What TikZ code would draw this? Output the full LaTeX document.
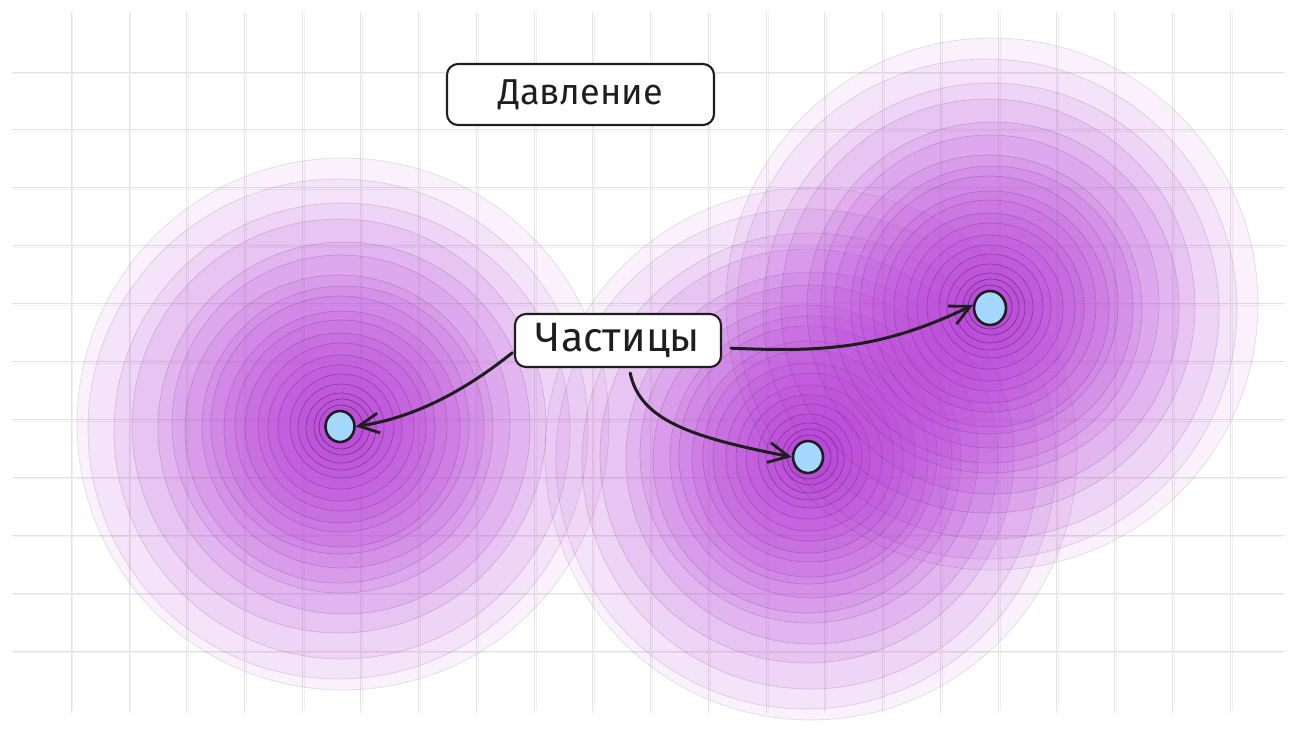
\documentclass[tikz,border=0pt]{standalone}
\usepackage{fontspec}
\setmainfont{Fira Sans}
\usetikzlibrary{arrows.meta,shapes.geometric}
\definecolor{blob}{HTML}{BA40DA}
\definecolor{pblue}{HTML}{A5D8FF}
\definecolor{ink}{HTML}{1E1E1E}
\newcommand\drawBlob[2]{%
  \foreach \r/\dx/\dy/\op/\dop in {266/2/-3/0.07/0.12, 250/-3/2/0.08/0.13, 228/1/4/0.09/0.14, 207/-2/-1/0.1/0.15, 186/3/1/0.11/0.16, 169/0/-3/0.11/0.16, 154/-2/2/0.11/0.17, 141/2/0/0.11/0.17, 129/-1/-2/0.11/0.18, 118/1/2/0.12/0.18, 106/0/-1/0.12/0.19, 95/-1/1/0.12/0.2, 84/1/0/0.12/0.21, 73/0/1/0.12/0.22, 62/-1/0/0.12/0.25, 52/1/-1/0.12/0.3, 43/0/0/0.12/0.35, 35/0/1/0.12/0.4, 28/1/0/0.12/0.45, 22/0/0/0.12/0.5}{
    \draw[blobring, fill opacity=\op, draw opacity=\dop] ({#1+\dx},{#2+\dy}) circle[radius=\r];
  }}
\tikzset{
  gridline/.style={draw=black!11, line width=0.9pt},
  gridlineb/.style={draw=black!6, line width=0.7pt},
  blobring/.style={fill=blob, draw=ink, line width=0.7pt},
  label/.style={draw=ink, fill=white, line width=2.1pt, rounded corners=11pt, inner sep=0pt, text=ink},
  particle/.style={ellipse, draw=ink, fill=pblue, line width=2.6pt, inner sep=0pt},
  arr/.style={draw=ink, line width=3pt, line cap=round, -{Straight Barb[length=20pt,width=20pt,line width=2.8pt]}},
}
\begin{document}
\begin{tikzpicture}[x=1pt,y=-1pt]
\useasboundingbox (0,0) rectangle (1308,732);
\fill[white] (0,0) rectangle (1308,732);
% grid
\foreach \i in {0,...,20}{
  \draw[gridline] ({71+57.97*\i},12) -- ({71+57.97*\i},713);
  \draw[gridlineb] ({72.5+57.97*\i},14) -- ({72.5+57.97*\i},710);
}
\foreach \j in {0,...,10}{
  \draw[gridline] (12,{72+57.9*\j}) -- (1285,{72+57.9*\j});
  \draw[gridlineb] (14,{73.5+57.9*\j}) -- (1282,{73.5+57.9*\j});
}
% pressure clouds
\drawBlob{341}{427}
\drawBlob{809}{457}
\drawBlob{990}{307}
% particles
\node[particle, minimum width=29pt, minimum height=31pt] (p1) at (340,426.5) {};
\node[particle, minimum width=30pt, minimum height=32pt] (p2) at (808,457) {};
\node[particle, minimum width=32pt, minimum height=34pt] (p3) at (990,308) {};
% labels
\node[label, minimum width=267pt, minimum height=61pt, font=\fontsize{36}{42}\selectfont] (lbl1) at (580.5,94.5) {Давление};
\node[label, minimum width=206pt, minimum height=53pt, font=\fontsize{41}{48}\selectfont] (lbl2) at (618,340.5) {Частицы};
% arrows
\draw[arr, shorten <=2pt] (lbl2.186) .. controls (462,393) and (412,418) .. (p1.east);
\draw[arr, shorten <=5pt] (lbl2.292) .. controls (640,420) and (690,437) .. (p2.west);
\draw[arr, shorten <=9pt] (lbl2.-4) .. controls (820,352) and (880,350) .. (p3.170);
\end{tikzpicture}
\end{document}
